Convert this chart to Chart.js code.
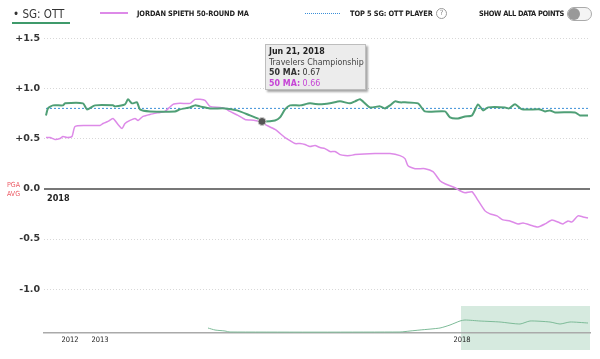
<!DOCTYPE html>
<html><head><meta charset="utf-8">
<script src="https://cdn.jsdelivr.net/npm/chart.js@4.4.1/dist/chart.umd.min.js"></script>
<style>
html,body{margin:0;padding:0;background:#fff;width:600px;height:359px;overflow:hidden;font-family:"DejaVu Sans",Verdana,sans-serif;}
#main{position:absolute;left:0;top:0;width:600px;height:309px;}
#nav{position:absolute;left:0;top:300px;width:600px;height:59px;}
.abs{position:absolute;white-space:nowrap;}
.leg{font-family:"DejaVu Sans Condensed","DejaVu Sans",sans-serif;font-weight:bold;font-size:7.4px;color:#222;letter-spacing:-0.1px;}
</style></head><body>
<div id="main"><canvas id="c1"></canvas></div>
<div id="nav"><canvas id="c2"></canvas></div>

<div class="abs" style="left:13px;top:7px;font-size:11.5px;color:#333;font-family:'DejaVu Sans Condensed','DejaVu Sans',sans-serif;">• SG: OTT</div>
<div class="abs" style="left:12px;top:22px;width:58px;height:2px;background:#3f9a6b;"></div>
<div class="abs" style="left:100px;top:12px;width:28px;height:2px;background:#dd8ae8;"></div>
<div class="abs leg" style="left:137px;top:9px;">JORDAN SPIETH 50-ROUND MA</div>
<div class="abs" style="left:305px;top:13px;width:35px;border-top:1.5px dotted #3b8fd8;"></div>
<div class="abs leg" style="left:350px;top:9px;">TOP 5 SG: OTT PLAYER</div>
<div class="abs" style="left:436px;top:8px;width:9px;height:9px;border:1px solid #999;border-radius:50%;font-size:7px;line-height:9px;text-align:center;color:#888;font-family:'DejaVu Sans',sans-serif;">?</div>
<div class="abs leg" style="left:479px;top:9px;letter-spacing:-0.3px;">SHOW ALL DATA POINTS</div>
<div class="abs" style="left:567px;top:7px;width:23px;height:12px;border:1px solid #aaa;border-radius:7px;background:#f4f4f4;"></div>
<div class="abs" style="left:568px;top:8px;width:12px;height:12px;border-radius:50%;background:#999;"></div>

<div class="abs" style="left:7px;top:181px;font-size:7px;line-height:9px;color:#ec5a64;font-family:'DejaVu Sans Condensed','DejaVu Sans',sans-serif;">PGA<br>AVG</div>
<div class="abs" style="left:47px;top:193px;font-size:9px;font-weight:bold;color:#222;font-family:'DejaVu Sans Condensed','DejaVu Sans',sans-serif;">2018</div>

<div class="abs" style="left:265px;top:44px;width:101px;height:46px;background:#ececec;border:1px solid #bdbdbd;box-shadow:2px 2px 2px rgba(0,0,0,0.35);font-family:'DejaVu Sans Condensed','DejaVu Sans',sans-serif;font-size:8.8px;line-height:10.5px;color:#222;padding:1px 0 0 3px;box-sizing:border-box;">
<div style="font-weight:bold;">Jun 21, 2018</div>
<div style="color:#444;">Travelers Championship</div>
<div style="color:#333;"><b>50 MA:</b> 0.67</div>
<div style="color:#c645d6;"><b>50 MA:</b> 0.66</div>
</div>

<script>
// ---- data (x = round index across the visible window) ----
const playerRounds = [0,2,7,17,19,37,41,49,67,69,79,82,86,91,94,104,129,134,144,149,154,164,179,191,204,209,214,216,229,234,239,244,254,264,274,284,294,304,309,314,319,324,334,339,344,349,354,359,372,379,399,404,412,419,426,432,437,442,459,463,469,476,494,499,504,509,529,534,542];
const playerValues = [0.73,0.80,0.83,0.83,0.85,0.85,0.79,0.83,0.83,0.82,0.84,0.89,0.85,0.86,0.79,0.77,0.77,0.79,0.81,0.83,0.82,0.80,0.80,0.78,0.73,0.71,0.69,0.67,0.68,0.71,0.79,0.83,0.83,0.85,0.84,0.85,0.87,0.85,0.87,0.89,0.85,0.81,0.82,0.80,0.83,0.87,0.86,0.86,0.85,0.77,0.77,0.71,0.70,0.72,0.73,0.84,0.78,0.81,0.81,0.80,0.84,0.79,0.79,0.77,0.78,0.76,0.76,0.73,0.73];
const spiethRounds = [0,4,9,14,17,21,26,29,39,54,57,62,67,72,76,79,84,89,92,97,104,114,119,127,134,144,149,154,159,164,174,179,184,192,199,209,216,219,229,239,244,249,254,259,264,269,274,279,284,289,294,299,304,309,329,344,354,359,362,369,379,387,394,399,409,414,419,426,431,439,444,451,457,464,472,477,484,492,499,506,514,517,522,526,532,537,542];
const spiethValues = [0.51,0.51,0.49,0.50,0.52,0.51,0.52,0.62,0.63,0.63,0.65,0.67,0.70,0.64,0.60,0.65,0.68,0.70,0.68,0.72,0.74,0.76,0.77,0.84,0.85,0.85,0.89,0.89,0.88,0.82,0.81,0.80,0.77,0.73,0.69,0.68,0.66,0.64,0.59,0.51,0.48,0.45,0.45,0.44,0.42,0.43,0.41,0.40,0.37,0.37,0.34,0.33,0.33,0.34,0.35,0.35,0.33,0.30,0.23,0.20,0.20,0.17,0.08,0.05,0.01,-0.02,-0.04,-0.03,-0.10,-0.22,-0.25,-0.27,-0.31,-0.32,-0.35,-0.34,-0.36,-0.38,-0.35,-0.31,-0.34,-0.35,-0.32,-0.33,-0.27,-0.28,-0.29];
const top5Value = 0.80;
const pgaAvg = 0.0;
const yTicks = [1.5, 1.0, 0.5, 0.0, -0.5, -1.0];
const highlightRound = 216;

// navigator (full history, height of the series above its baseline)
const navRounds = [162,169,179,184,354,364,374,394,404,414,419,434,454,474,484,504,514,524,542];
const navValues = [5,3,2,1,1,2,3,5,8,12,13,12,11,9,12,11,9,11,10];
const navTickRounds = [24,54,416];
const navTickLabels = ['2012','2013','2018'];
const navWindow = [415, 544];

const xMin = -2, xMax = 544;
const pts = (xs, ys) => xs.map((x,i)=>({x:x,y:ys[i]}));

const refLines = {
  id:'refLines',
  beforeDatasetsDraw(chart){
    const {ctx, chartArea:a, scales:{y}} = chart;
    const py = Math.round(y.getPixelForValue(pgaAvg));
    ctx.save();
    ctx.strokeStyle = '#777'; ctx.lineWidth = 2;
    ctx.beginPath(); ctx.moveTo(a.left, py); ctx.lineTo(a.right, py); ctx.stroke();
    ctx.restore();
  }
};

new Chart(document.getElementById('c1'), {
  type:'line',
  data:{datasets:[
    {label:'SG: OTT 50 MA', data:pts(playerRounds, playerValues), borderColor:'#4f9f76', borderWidth:2, tension:0.2,
     pointRadius:(c)=> (c.raw && c.raw.x===highlightRound) ? 4 : 0,
     pointBackgroundColor:'#555', pointBorderColor:'#ccc', pointBorderWidth:1, order:1},
    {label:'Jordan Spieth 50-round MA', data:pts(spiethRounds, spiethValues), borderColor:'#dd8ae8', borderWidth:1.5, tension:0.2, pointRadius:0, order:2},
    {label:'Top 5', data:[{x:0,y:top5Value},{x:542,y:top5Value}], borderColor:'#3b8fd8', borderWidth:1, borderDash:[2,2], pointRadius:0, order:3}
  ]},
  options:{
    responsive:true, maintainAspectRatio:false, animation:false,
    layout:{padding:{top:28,bottom:8,left:0,right:10}},
    plugins:{legend:{display:false}, tooltip:{enabled:false}},
    scales:{
      x:{type:'linear', min:xMin, max:xMax, display:false},
      y:{min:-1.1, max:1.6,
        afterBuildTicks:(s)=>{ s.ticks = yTicks.map(v=>({value:v})); },
        afterFit:(s)=>{ s.width = 44; },
        border:{display:false, dash:[1,2]},
        grid:{color:(c)=> c.tick && c.tick.value===0 ? 'rgba(0,0,0,0)' : '#d8d8d8', lineWidth:1, drawTicks:false},
        ticks:{padding:4, color:'#333', font:{family:'DejaVu Sans', size:9.5, weight:'bold'},
          callback:(v)=> v===0 ? '0.0' : (v>0?'+':'') + v.toFixed(1)}
      }
    }
  },
  plugins:[refLines]
});

const navShade = {
  id:'navShade',
  beforeDraw(chart){
    const {ctx, scales:{x}} = chart;
    const x0 = x.getPixelForValue(navWindow[0]), x1 = x.getPixelForValue(navWindow[1]);
    ctx.save(); ctx.fillStyle = '#d6eadf'; ctx.fillRect(x0, 6, x1-x0, 44); ctx.restore();
  }
};

new Chart(document.getElementById('c2'), {
  type:'line',
  data:{datasets:[{data:pts(navRounds, navValues), borderColor:'#7dbb98', borderWidth:1, pointRadius:0, tension:0.2}]},
  options:{
    responsive:true, maintainAspectRatio:false, animation:false,
    layout:{padding:{top:6,left:44,right:10,bottom:0}},
    plugins:{legend:{display:false}, tooltip:{enabled:false}},
    scales:{
      x:{type:'linear', min:xMin, max:xMax,
        afterBuildTicks:(s)=>{ s.ticks = navTickRounds.map(v=>({value:v})); },
        afterFit:(s)=>{ s.height = 26; },
        grid:{display:false, drawTicks:false, tickLength:0}, border:{color:'#aaa', width:1.5},
        ticks:{padding:3, maxRotation:0, autoSkip:false, color:'#222', font:{family:'DejaVu Sans Condensed', size:7.5},
          callback:(v)=>{ const i = navTickRounds.indexOf(v); return i>=0 ? navTickLabels[i] : ''; }}
      },
      y:{min:0, max:27, display:false}
    }
  },
  plugins:[navShade]
});
</script>
</body></html>
